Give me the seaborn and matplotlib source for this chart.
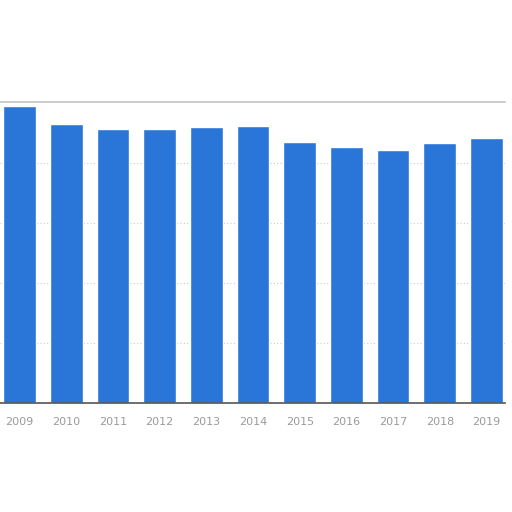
import numpy as np
import pandas as pd
import matplotlib.pyplot as plt
import seaborn as sns

# Data (y axis labels are cropped off, units unknown)
years = ["2009", "2010", "2011", "2012", "2013", "2014", "2015", "2016", "2017", "2018", "2019"]
values = [4.95, 4.66, 4.57, 4.57, 4.60, 4.62, 4.35, 4.27, 4.22, 4.34, 4.42]

df = pd.DataFrame({"year": years, "value": values})

sns.set_theme(style="white")
plt.rcParams['font.family'] = ['DejaVu Sans']

fig = plt.figure(figsize=(5.12, 5.12), dpi=100)
ax = fig.add_axes([0.0, 0.2123, 505 / 512, 0.5885])

sns.barplot(data=df, x="year", y="value", color="#2a76d8", width=0.70,
            saturation=1, ax=ax)

ax.set_xlim(-0.418, 10.396)
ax.set_ylim(0, 5.02)
ax.set_yticks([1, 2, 3, 4])
ax.yaxis.grid(True, color="#cccccc", linestyle=(0, (1, 2)), linewidth=0.8)
ax.set_axisbelow(True)
ax.tick_params(axis="y", left=False, labelleft=False)
ax.tick_params(axis="x", bottom=False, length=0, labelsize=8,
               labelcolor="#9a9a9a", pad=10)
ax.set_xlabel("")
ax.set_ylabel("")

for side in ["left", "right"]:
    ax.spines[side].set_visible(False)
ax.spines["top"].set_color("#c4c4c4")
ax.spines["top"].set_linewidth(1.2)
ax.spines["bottom"].set_color("#555555")
ax.spines["bottom"].set_linewidth(1.2)

fig.savefig("out.png", dpi=100)
